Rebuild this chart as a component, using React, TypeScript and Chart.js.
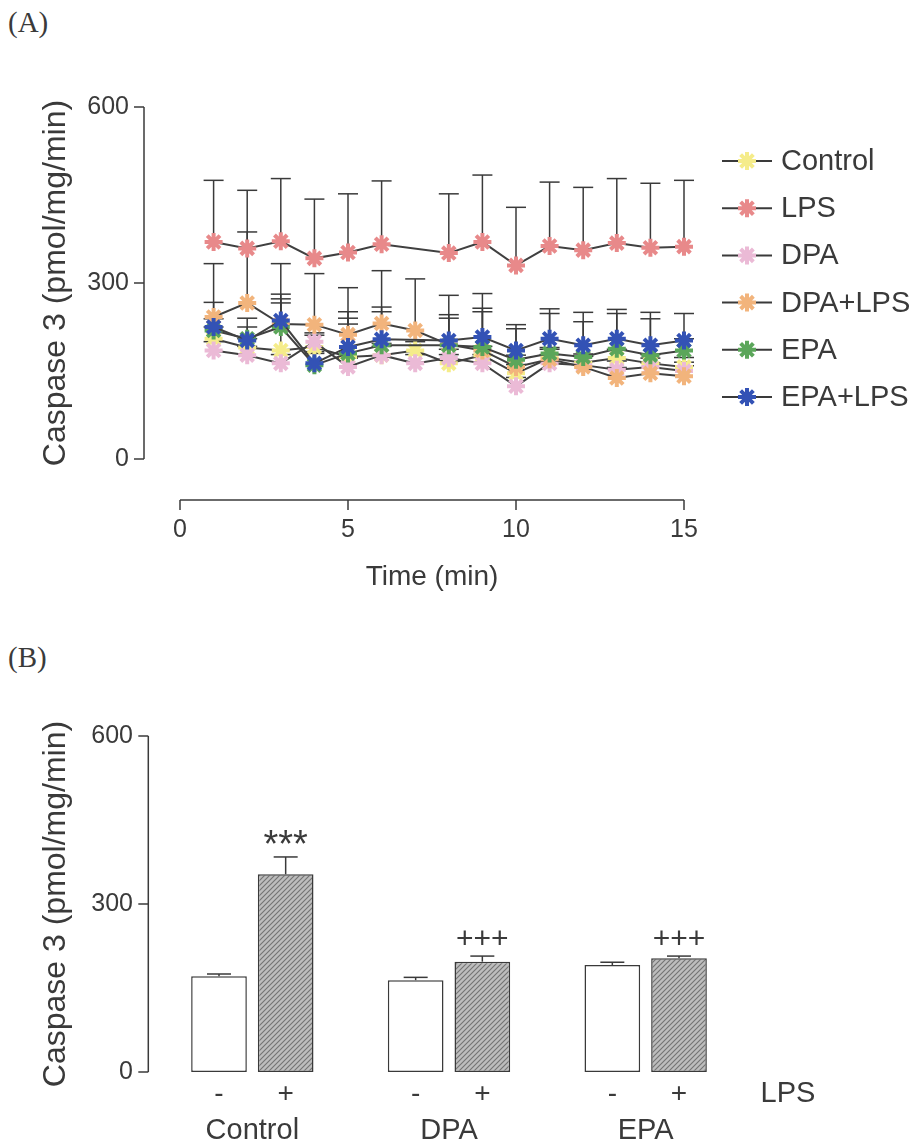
import React, { useEffect, useRef } from 'react';
import { Chart, registerables } from 'chart.js';

Chart.register(...registerables);

const FONT = '"Liberation Sans", Arial, Helvetica, sans-serif';
const INK = '#3a3a3a';

// ---------- Panel A data ----------
const times = [1, 2, 3, 4, 5, 6, 7, 8, 9, 10, 11, 12, 13, 14, 15];
const xTicksA = [0, 5, 10, 15];
const yTicks = [0, 300, 600];

const seriesNames = ['Control', 'LPS', 'DPA', 'DPA+LPS', 'EPA', 'EPA+LPS'];
const seriesColors = ['#f5ec8a', '#e8898a', '#ebbad6', '#f2b47c', '#5ba65a', '#3352b5'];

const controlVals = [205, 190, 185, 191, 174, 177, 185, 163, 177, 146, 172, 164, 172, 163, 157];
const lpsVals = [370, 359, 371, 342, 352, 366, null, 351, 370, 330, 363, 356, 368, 360, 362];
const dpaVals = [185, 177, 163, 200, 157, 177, 163, 172, 163, 124, 163, 160, 152, 157, 150];
const dpaLpsVals = [242, 266, 230, 229, 212, 231, 219, 195, 185, 157, 170, 157, 138, 146, 141];
const epaVals = [219, 205, 225, 160, 180, 194, null, 194, 191, 169, 180, 174, 188, 177, 185];
const epaLpsVals = [225, 202, 236, 163, 191, 204, null, 202, 208, 185, 205, 194, 205, 194, 202];

const controlErr = [20, 15, 81, 20, 56, 20, 15, 15, 15, 15, 15, 15, 15, 15, 16];
const lpsErr = [105, 99, 107, 101, 100, 108, null, 101, 114, 99, 109, 107, 110, 110, 113];
const dpaErr = [15, 15, 15, 15, 15, 15, 15, 15, 15, 15, 15, 15, 15, 15, 15];
const dpaLpsErr = [91, 121, 103, 87, 80, 90, 88, 84, 97, 20, 20, 18, 18, 18, 18];
const epaErr = [20, 20, 48, 20, 60, 57, null, 46, 60, 53, 68, 60, 60, 62, 20];
const epaLpsErr = [42, 38, 45, 20, 60, 55, null, 44, 49, 44, 51, 56, 50, 56, 46];

const seriesValues = [controlVals, lpsVals, dpaVals, dpaLpsVals, epaVals, epaLpsVals];
const seriesErrors = [controlErr, lpsErr, dpaErr, dpaLpsErr, epaErr, epaLpsErr];

// ---------- Panel B data ----------
const groups = ['Control', 'DPA', 'EPA'];
const noLpsVals = [171, 164, 191];
const noLpsErr = [4, 5, 5];
const withLpsVals = [353, 197, 203];
const withLpsErr = [31, 10, 4];
const withLpsMarks = ['***', '+++', '+++'];
const lpsSigns = ['-', '+'];

const YTITLE = 'Caspase 3 (pmol/mg/min)';

function drawStar(ctx: CanvasRenderingContext2D, x: number, y: number, r: number, color: string, w: number) {
  ctx.save();
  ctx.strokeStyle = color;
  ctx.lineWidth = w;
  ctx.lineCap = 'butt';
  ctx.beginPath();
  for (let k = 0; k < 4; k++) {
    const a = (k * Math.PI) / 4;
    ctx.moveTo(x - Math.cos(a) * r, y - Math.sin(a) * r);
    ctx.lineTo(x + Math.cos(a) * r, y + Math.sin(a) * r);
  }
  ctx.stroke();
  ctx.restore();
}

function seg(ctx: CanvasRenderingContext2D, x1: number, y1: number, x2: number, y2: number) {
  ctx.beginPath();
  ctx.moveTo(x1, y1);
  ctx.lineTo(x2, y2);
  ctx.stroke();
}

const panelAPlugin = {
  id: 'panelA',
  beforeDatasetsDraw(chart: any) {
    const { ctx } = chart;
    const xs = chart.scales.x;
    const ys = chart.scales.y;
    ctx.save();
    ctx.strokeStyle = INK;
    ctx.lineWidth = 1.5;
    seriesValues.forEach((vals, s) => {
      vals.forEach((v, i) => {
        const e = seriesErrors[s][i];
        if (v == null || e == null) return;
        const x = xs.getPixelForValue(times[i]);
        const y0 = ys.getPixelForValue(v);
        const y1 = ys.getPixelForValue(v + e);
        seg(ctx, x, y0, x, y1);
        seg(ctx, x - 10, y1, x + 10, y1);
      });
    });
    ctx.restore();
  },
  afterDraw(chart: any) {
    const { ctx, chartArea } = chart;
    const xs = chart.scales.x;
    const ys = chart.scales.y;
    ctx.save();
    ctx.strokeStyle = INK;
    ctx.lineWidth = 1.5;
    // detached y axis
    const ax = chartArea.left - 36;
    seg(ctx, ax, ys.getPixelForValue(yTicks[0]), ax, ys.getPixelForValue(yTicks[yTicks.length - 1]));
    yTicks.forEach((t) => {
      const y = ys.getPixelForValue(t);
      seg(ctx, ax - 10, y, ax, y);
    });
    // detached x axis
    const ay = chartArea.bottom + 41;
    seg(ctx, xs.getPixelForValue(xTicksA[0]), ay, xs.getPixelForValue(xTicksA[xTicksA.length - 1]), ay);
    xTicksA.forEach((t) => {
      const x = xs.getPixelForValue(t);
      seg(ctx, x, ay, x, ay + 10);
    });
    // legend
    const lx = chartArea.right + 38;
    seriesNames.forEach((name, i) => {
      const y = chartArea.top + 54 + i * 47.2;
      ctx.strokeStyle = INK;
      ctx.lineWidth = 2;
      seg(ctx, lx, y, lx + 50, y);
      drawStar(ctx, lx + 25, y, 9, seriesColors[i], 4);
      ctx.fillStyle = INK;
      ctx.font = `29px ${FONT}`;
      ctx.textAlign = 'left';
      ctx.textBaseline = 'middle';
      ctx.fillText(name, lx + 59, y + 1);
    });
    ctx.restore();
  },
};

function makeHatch(): CanvasPattern | string {
  const c = document.createElement('canvas');
  c.width = 5;
  c.height = 5;
  const g = c.getContext('2d');
  if (!g) return '#a8a8a8';
  g.fillStyle = '#bdbdbd';
  g.fillRect(0, 0, 5, 5);
  g.strokeStyle = '#737373';
  g.lineWidth = 1.1;
  g.beginPath();
  g.moveTo(-1, 6);
  g.lineTo(6, -1);
  g.moveTo(-1, 1);
  g.lineTo(1, -1);
  g.moveTo(4, 6);
  g.lineTo(6, 4);
  g.stroke();
  const p = g.createPattern(c, 'repeat');
  return p || '#a8a8a8';
}

const panelBPlugin = {
  id: 'panelB',
  afterDatasetsDraw(chart: any) {
    const { ctx } = chart;
    const ys = chart.scales.y;
    const errs = [noLpsErr, withLpsErr];
    const vals = [noLpsVals, withLpsVals];
    ctx.save();
    ctx.strokeStyle = INK;
    ctx.lineWidth = 1.5;
    [0, 1].forEach((d) => {
      const meta = chart.getDatasetMeta(d);
      meta.data.forEach((bar: any, i: number) => {
        const top = ys.getPixelForValue(vals[d][i]);
        const yE = ys.getPixelForValue(vals[d][i] + errs[d][i]);
        seg(ctx, bar.x, top, bar.x, yE);
        seg(ctx, bar.x - 12, yE, bar.x + 12, yE);
        if (d === 1) {
          const m = withLpsMarks[i];
          ctx.fillStyle = INK;
          ctx.textAlign = 'center';
          ctx.textBaseline = 'middle';
          if (m === '***') {
            ctx.font = `38px ${FONT}`;
            ctx.fillText(m, bar.x, yE - 10);
          } else {
            ctx.font = `30px ${FONT}`;
            ctx.fillText(m, bar.x, yE - 16);
          }
        }
      });
    });
    ctx.restore();
  },
  afterDraw(chart: any) {
    const { ctx, chartArea } = chart;
    const ys = chart.scales.y;
    ctx.save();
    ctx.strokeStyle = INK;
    ctx.lineWidth = 1.5;
    const ax = chartArea.left - 5.7;
    seg(ctx, ax, ys.getPixelForValue(yTicks[0]), ax, ys.getPixelForValue(yTicks[yTicks.length - 1]));
    yTicks.forEach((t) => {
      const y = ys.getPixelForValue(t);
      seg(ctx, ax - 10, y, ax, y);
    });
    ctx.fillStyle = INK;
    ctx.textAlign = 'center';
    ctx.textBaseline = 'middle';
    const ly = chartArea.bottom + 22;
    [0, 1].forEach((d) => {
      const meta = chart.getDatasetMeta(d);
      meta.data.forEach((bar: any) => {
        ctx.font = `28px ${FONT}`;
        ctx.fillText(lpsSigns[d], bar.x, ly);
      });
    });
    ctx.font = `29px ${FONT}`;
    ctx.fillText('LPS', chartArea.right + 44, ly);
    ctx.restore();
  },
};

export default function App() {
  const refA = useRef<HTMLCanvasElement>(null);
  const refB = useRef<HTMLCanvasElement>(null);

  useEffect(() => {
    const chartA = new Chart(refA.current as HTMLCanvasElement, {
      type: 'line',
      data: {
        datasets: seriesNames.map((name, k) => ({
          label: name,
          data: times.map((t, i) => ({ x: t, y: seriesValues[k][i] })),
          borderColor: '#404040',
          borderWidth: 2,
          pointStyle: 'star',
          pointRadius: 9,
          pointBorderWidth: 4,
          pointBorderColor: seriesColors[k],
          pointBackgroundColor: seriesColors[k],
          spanGaps: true,
          clip: false,
          order: seriesNames.length - k,
        })),
      } as any,
      options: {
        animation: false,
        responsive: false,
        maintainAspectRatio: false,
        layout: { padding: { top: 107, right: 233, bottom: 0, left: 0 } },
        plugins: { legend: { display: false }, tooltip: { enabled: false } },
        scales: {
          x: {
            type: 'linear',
            min: 0,
            max: 15,
            ticks: { stepSize: 5, padding: 56, color: INK, font: { family: FONT, size: 25 } },
            grid: { display: false, drawTicks: false },
            border: { display: false },
            title: {
              display: true,
              text: 'Time (min)',
              color: INK,
              font: { family: FONT, size: 28 },
              padding: { top: 0, bottom: 26 },
            },
            afterFit: (s: any) => {
              s.height = 161;
            },
          },
          y: {
            min: 0,
            max: 600,
            ticks: { stepSize: 300, padding: 51, color: INK, font: { family: FONT, size: 25 } },
            grid: { display: false, drawTicks: false },
            border: { display: false },
            title: {
              display: true,
              text: YTITLE,
              color: INK,
              font: { family: FONT, size: 32 },
              padding: { top: 37, bottom: 0 },
            },
            afterFit: (s: any) => {
              s.width = 180;
            },
          },
        },
      } as any,
      plugins: [panelAPlugin],
    });

    const hatch = makeHatch();
    const chartB = new Chart(refB.current as HTMLCanvasElement, {
      type: 'bar',
      data: {
        labels: groups,
        datasets: [
          {
            label: 'LPS -',
            data: noLpsVals,
            backgroundColor: '#ffffff',
            borderColor: INK,
            borderWidth: 1.5,
            borderSkipped: false,
            barPercentage: 0.835,
            categoryPercentage: 0.678,
          },
          {
            label: 'LPS +',
            data: withLpsVals,
            backgroundColor: hatch,
            borderColor: INK,
            borderWidth: 1.5,
            borderSkipped: false,
            barPercentage: 0.835,
            categoryPercentage: 0.678,
          },
        ],
      } as any,
      options: {
        animation: false,
        responsive: false,
        maintainAspectRatio: false,
        layout: { padding: { top: 116, right: 173, bottom: 0, left: 0 } },
        plugins: { legend: { display: false }, tooltip: { enabled: false } },
        scales: {
          x: {
            ticks: { padding: 42, color: INK, font: { family: FONT, size: 29 } },
            grid: { display: false, drawTicks: false },
            border: { display: false },
            afterFit: (s: any) => {
              s.height = 72;
            },
          },
          y: {
            min: 0,
            max: 600,
            ticks: { stepSize: 300, padding: 21, color: INK, font: { family: FONT, size: 25 } },
            grid: { display: false, drawTicks: false },
            border: { display: false },
            title: {
              display: true,
              text: YTITLE,
              color: INK,
              font: { family: FONT, size: 32 },
              padding: { top: 37, bottom: 0 },
            },
            afterFit: (s: any) => {
              s.width = 154;
            },
          },
        },
      } as any,
      plugins: [panelBPlugin],
    });

    return () => {
      chartA.destroy();
      chartB.destroy();
    };
  }, []);

  const panelLabel: React.CSSProperties = {
    position: 'absolute',
    left: 8,
    font: '29px "Liberation Serif", "Times New Roman", serif',
    lineHeight: '29px',
    color: INK,
  };

  return (
    <div style={{ position: 'absolute', left: 0, top: 0, width: 917, height: 1144, background: '#ffffff', overflow: 'hidden' }}>
      <div style={{ ...panelLabel, top: 8 }}>(A)</div>
      <canvas ref={refA} width={917} height={620} style={{ position: 'absolute', left: 0, top: 0 }} />
      <div style={{ ...panelLabel, top: 643 }}>(B)</div>
      <canvas ref={refB} width={917} height={524} style={{ position: 'absolute', left: 0, top: 620 }} />
    </div>
  );
}
